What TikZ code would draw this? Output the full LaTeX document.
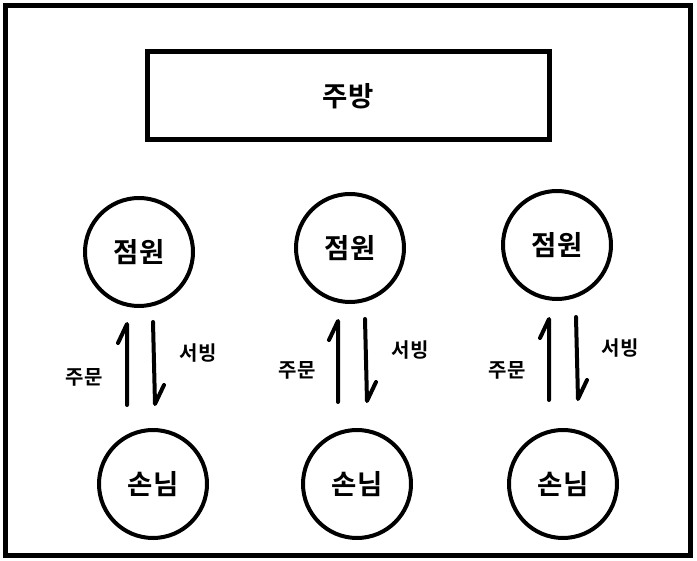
\documentclass[tikz,border=0pt]{standalone}
\usepackage{fontspec}
\newfontfamily\kr{Noto Sans CJK KR Bold}
\begin{document}
\begin{tikzpicture}[x=1pt,y=-1pt,
  frame/.style={draw=black,line width=5pt},
  person/.style={circle,draw=black,line width=4pt,minimum size=108pt,inner sep=0pt,font=\kr\fontsize{27.5}{30}\selectfont},
  lbl/.style={font=\kr\fontsize{20}{22}\selectfont,inner sep=0pt},
  harp/.style={draw=black,line width=4pt,line cap=round,line join=round}]
\useasboundingbox (0,0) rectangle (697,561);
\fill[white] (0,0) rectangle (697,561);
\draw[frame] (5,6) rectangle (690,556);
\node[frame,minimum width=402pt,minimum height=88pt,inner sep=0pt,font=\kr\fontsize{27.5}{30}\selectfont] (kitchen) at (348,96) {주방};
% staff
\node[person] (s1) at (139,252) {점원};
\node[person] (s2) at (350,248) {점원};
\node[person] (s3) at (557,245) {점원};
% guests
\node[person] (g1) at (153,484) {손님};
\node[person] (g2) at (357,484) {손님};
\node[person] (g3) at (563,484) {손님};
% arrows pair 1
\coordinate (u1a) at (127,405); \coordinate (u1b) at (127,324);
\coordinate (d1a) at (153,322); \coordinate (d1b) at (155,404);
\draw[harp] (u1a) -- (u1b) -- (118,343);
\draw[harp] (d1a) -- (d1b) -- (164,385);
\node[lbl] (o1) at (84,377) {주문};
\node[lbl] (v1) at (198,353) {서빙};
% pair 2
\coordinate (u2a) at (338,402); \coordinate (u2b) at (338,321);
\coordinate (d2a) at (365,319); \coordinate (d2b) at (367,401);
\draw[harp] (u2a) -- (u2b) -- (329,340);
\draw[harp] (d2a) -- (d2b) -- (376,382);
\node[lbl] (o2) at (297,370) {주문};
\node[lbl] (v2) at (410,350) {서빙};
% pair 3
\coordinate (u3a) at (549,400); \coordinate (u3b) at (549,319);
\coordinate (d3a) at (576,317); \coordinate (d3b) at (578,399);
\draw[harp] (u3a) -- (u3b) -- (540,338);
\draw[harp] (d3a) -- (d3b) -- (587,380);
\node[lbl] (o3) at (507,370) {주문};
\node[lbl] (v3) at (620,348) {서빙};
\end{tikzpicture}
\end{document}
